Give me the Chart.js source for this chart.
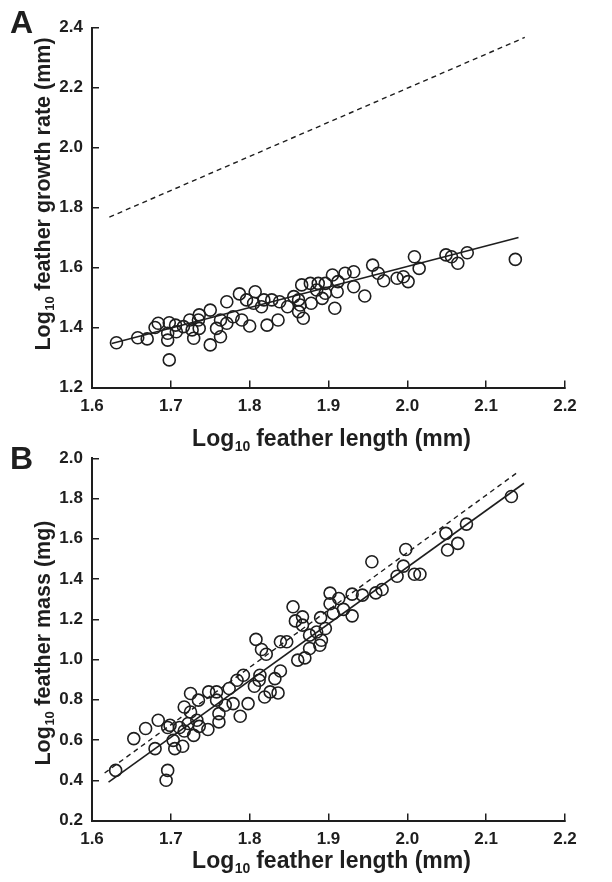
<!DOCTYPE html>
<html>
<head>
<meta charset="utf-8">
<script src="https://cdn.jsdelivr.net/npm/chart.js@4.4.0/dist/chart.umd.min.js"></script>
<style>
  body { margin: 0; background: #fff; width: 612px; height: 882px; overflow: hidden; position: relative; }
  canvas { position: absolute; left: 0; top: 0; }
  .panel { position: absolute; font: bold 32px "Liberation Sans", Arial, sans-serif; color: #1e1e1e; z-index: 2; }
</style>
</head>
<body>
<canvas id="chartA" width="612" height="882"></canvas>
<canvas id="chartB" width="612" height="882"></canvas>
<div class="panel" style="left:10px; top:4px;">A</div>
<div class="panel" style="left:10px; top:440px;">B</div>
<script>
// 패널 A : feather growth rate
var aLength = [1.631,1.658,1.670,1.680,1.684,1.698,1.696,1.696,1.698,1.706,1.707,1.716,1.724,1.727,1.729,
  1.735,1.736,1.736,1.750,1.750,1.758,1.763,1.763,1.771,1.771,1.779,1.787,1.790,1.796,1.800,
  1.807,1.805,1.815,1.818,1.822,1.828,1.836,1.838,1.848,1.856,1.862,1.866,1.868,1.862,1.864,
  1.877,1.878,1.885,1.887,1.892,1.896,1.896,1.905,1.908,1.911,1.912,1.921,1.932,1.932,1.946,
  1.956,1.963,1.970,1.987,1.995,2.001,2.009,2.015,2.049,2.056,2.064,2.076,2.137];
var aRate = [1.349,1.366,1.362,1.400,1.414,1.416,1.381,1.358,1.292,1.408,1.386,1.403,1.425,1.392,1.364,
  1.425,1.442,1.397,1.458,1.342,1.397,1.369,1.425,1.486,1.414,1.436,1.512,1.425,1.492,1.405,
  1.519,1.481,1.469,1.492,1.408,1.492,1.425,1.486,1.469,1.503,1.492,1.542,1.431,1.453,1.475,
  1.547,1.481,1.525,1.547,1.497,1.547,1.514,1.575,1.464,1.519,1.553,1.581,1.586,1.536,1.505,
  1.608,1.581,1.556,1.564,1.569,1.553,1.636,1.597,1.642,1.636,1.614,1.649,1.627];
var aFitX = [1.625, 2.141];
var aFitY = [1.347, 1.700];
var aRefX = [1.622, 2.149];
var aRefY = [1.768, 2.367];

// 패널 B : feather mass
var bLength = [1.630,1.653,1.668,1.680,1.684,1.696,1.694,1.696,1.699,1.703,1.705,1.711,1.715,1.717,1.717,
  1.722,1.725,1.725,1.729,1.733,1.735,1.736,1.747,1.748,1.758,1.758,1.761,1.761,1.769,1.774,
  1.779,1.784,1.788,1.792,1.798,1.806,1.808,1.812,1.813,1.815,1.819,1.821,1.826,1.832,1.836,
  1.839,1.839,1.847,1.855,1.858,1.861,1.867,1.867,1.870,1.876,1.876,1.885,1.890,1.889,1.891,
  1.896,1.902,1.902,1.913,1.919,1.930,1.906,1.930,1.943,1.955,1.960,1.968,1.987,1.995,1.998,
  2.009,2.016,2.049,2.051,2.064,2.075,2.132];
var bMass = [0.449,0.607,0.657,0.557,0.698,0.449,0.400,0.662,0.673,0.598,0.557,0.662,0.569,0.764,0.645,
  0.682,0.831,0.739,0.623,0.698,0.798,0.668,0.652,0.839,0.839,0.798,0.731,0.690,0.773,0.856,
  0.781,0.897,0.718,0.922,0.781,0.867,1.100,0.897,0.922,1.050,0.814,1.026,0.839,0.905,0.834,
  0.943,1.088,1.088,1.262,1.192,0.997,1.212,1.171,1.008,1.121,1.055,1.137,1.208,1.071,1.096,
  1.154,1.330,1.277,1.303,1.249,1.217,1.229,1.325,1.320,1.486,1.331,1.348,1.414,1.464,1.547,
  1.424,1.424,1.627,1.544,1.577,1.673,1.810];
var bFitX = [1.621, 2.148];
var bFitY = [0.391, 1.876];
var bRefX = [1.616, 2.139];
var bRefY = [0.436, 1.928];

var xTicks = [1.6, 1.7, 1.8, 1.9, 2.0, 2.1, 2.2];
var aYTicks = [1.2, 1.4, 1.6, 1.8, 2.0, 2.2, 2.4];
var bYTicks = [0.2, 0.4, 0.6, 0.8, 1.0, 1.2, 1.4, 1.6, 1.8, 2.0];

var ink = '#1e1e1e';
var fam = '"Liberation Sans", Arial, sans-serif';

function pts(xs, ys) {
  return xs.map(function (x, i) { return { x: x, y: ys[i] }; });
}

// Log10 축 제목 (아래첨자 포함)
function drawLogTitle(ctx, rest, cx, cy, rotate, size) {
  var sub = Math.round(size * 0.62);
  ctx.save();
  ctx.translate(cx, cy);
  if (rotate) ctx.rotate(-Math.PI / 2);
  ctx.fillStyle = ink;
  ctx.textBaseline = 'middle';
  ctx.font = 'bold ' + size + 'px ' + fam;
  var wLog = ctx.measureText('Log').width;
  var wRest = ctx.measureText(rest).width;
  ctx.font = 'bold ' + sub + 'px ' + fam;
  var wSub = ctx.measureText('10').width;
  var x0 = -(wLog + wSub + wRest) / 2;
  ctx.font = 'bold ' + size + 'px ' + fam;
  ctx.fillText('Log', x0, 0);
  ctx.font = 'bold ' + sub + 'px ' + fam;
  ctx.fillText('10', x0 + wLog + 0.5, size * 0.3);
  ctx.font = 'bold ' + size + 'px ' + fam;
  ctx.fillText(rest, x0 + wLog + wSub, 0);
  ctx.restore();
}

var titlePlugin = {
  id: 'logTitles',
  afterDraw: function (chart, args, o) {
    var a = chart.chartArea;
    drawLogTitle(chart.ctx, o.xRest, (a.left + a.right) / 2 + 3, o.xTitleY, false, 23);
    drawLogTitle(chart.ctx, o.yRest, o.yTitleX, o.yTitleCY, true, 21.5);
  }
};

function makeChart(id, cfg) {
  var ctx = document.getElementById(id).getContext('2d');
  return new Chart(ctx, {
    type: 'scatter',
    data: {
      datasets: [{
        data: pts(cfg.xs, cfg.ys),
        pointRadius: 6,
        pointBorderWidth: 1.6,
        pointBorderColor: ink,
        pointBackgroundColor: 'rgba(0,0,0,0)'
      }, {
        data: pts(cfg.fitX, cfg.fitY),
        showLine: true,
        pointRadius: 0,
        borderColor: ink,
        borderWidth: 1.6
      }, {
        data: pts(cfg.refX, cfg.refY),
        showLine: true,
        pointRadius: 0,
        borderColor: ink,
        borderWidth: 1.4,
        borderDash: [5, 4]
      }]
    },
    options: {
      responsive: false,
      animation: false,
      events: [],
      layout: { padding: cfg.padding },
      plugins: {
        legend: { display: false },
        tooltip: { enabled: false },
        logTitles: cfg.titles
      },
      scales: {
        x: {
          min: 1.6, max: 2.2,
          afterBuildTicks: function (s) { s.ticks = xTicks.map(function (v) { return { value: v }; }); },
          afterFit: function (s) { s.height = 40; },
          border: { display: true, width: 2, color: ink },
          grid: { drawOnChartArea: false, tickLength: -7, lineWidth: 1.5, color: ink },
          ticks: {
            padding: 16, color: ink, maxRotation: 0,
            font: { family: fam, size: 17, weight: 'bold' },
            callback: function (v) { return Number(v).toFixed(1); }
          }
        },
        y: {
          min: cfg.yMin, max: cfg.yMax,
          afterBuildTicks: function (s) { s.ticks = cfg.yTicks.map(function (v) { return { value: v }; }); },
          afterFit: function (s) { s.width = 92; },
          border: { display: true, width: 2, color: ink },
          grid: { drawOnChartArea: false, tickLength: -7, lineWidth: 1.5, color: ink },
          ticks: {
            padding: 16, color: ink,
            font: { family: fam, size: 17, weight: 'bold' },
            callback: function (v) { return Number(v).toFixed(1); }
          }
        }
      }
    },
    plugins: [titlePlugin]
  });
}

makeChart('chartA', {
  xs: aLength, ys: aRate,
  fitX: aFitX, fitY: aFitY, refX: aRefX, refY: aRefY,
  yMin: 1.2, yMax: 2.4, yTicks: aYTicks,
  padding: { left: 0, right: 47, top: 27.5, bottom: 454.5 },
  titles: { xRest: ' feather length (mm)', yRest: ' feather growth rate (mm)', xTitleY: 440, yTitleX: 44, yTitleCY: 194 }
});

makeChart('chartB', {
  xs: bLength, ys: bMass,
  fitX: bFitX, fitY: bFitY, refX: bRefX, refY: bRefY,
  yMin: 0.2, yMax: 2.0, yTicks: bYTicks,
  padding: { left: 0, right: 47, top: 458.3, bottom: 21.5 },
  titles: { xRest: ' feather length (mm)', yRest: ' feather mass (mg)', xTitleY: 862, yTitleX: 44, yTitleCY: 643 }
});
</script>
</body>
</html>
